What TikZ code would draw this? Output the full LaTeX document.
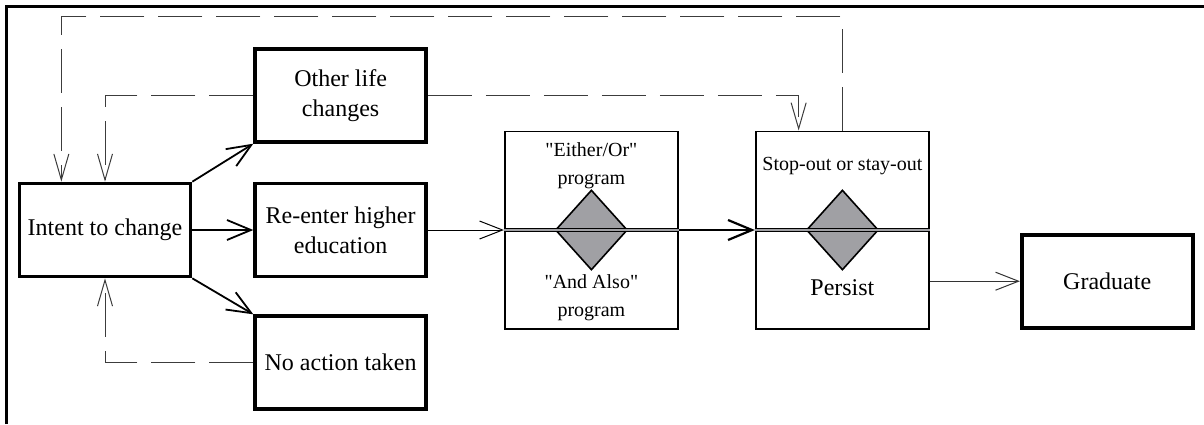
\documentclass[tikz,border=0pt]{standalone}
\usepackage{fontspec}
\setmainfont{Liberation Serif}
\usepackage{xcolor}
\usepackage{tikz}
\usetikzlibrary{positioning,arrows.meta,shapes.geometric,calc}
\definecolor{pdgrey}{RGB}{160,160,164}
\definecolor{pddash}{RGB}{60,60,60}
\tikzset{
  stage/.style={draw=black, line width=1.8pt, align=center,
                minimum width=85.5pt, minimum height=46.5pt, inner sep=2pt,
                font=\fontsize{12}{15}\selectfont},
  prog/.style={draw=black, line width=0.9pt, minimum width=86.6pt,
               minimum height=98.6pt, inner sep=0pt},
  gem/.style={diamond, draw=black, line width=0.8pt, fill=pdgrey,
              minimum width=36pt, minimum height=40pt, inner sep=0pt},
  lbl/.style={font=\fontsize{10}{14}\selectfont, align=center, inner sep=0pt},
  flow/.style={-{Straight Barb[length=12pt,width=10pt]}, line width=0.9pt},
  feed/.style={-{Straight Barb[length=11.5pt,width=9pt]}, line width=0.5pt},
  back/.style={-{Straight Barb[length=13pt,width=7.5pt]}, line width=0.5pt,
               color=pddash, dash pattern=on 22pt off 7pt},
  split/.style={draw=black, line width=0.5pt, double=pdgrey, double distance=0.7pt},
}
\newcommand{\qq}[1]{\textquotedbl#1\textquotedbl}
\begin{document}
\begin{tikzpicture}[x=0.5pt, y=-0.5pt]
\useasboundingbox (0,0) rectangle (1204,424);
% frame
\draw[line width=1.5pt] (6,424) -- (6,6) -- (1204,6);

% the choices after deciding to change
\node[stage] (intent) at (105,230) {Intent to change};
\node[stage, right=30.5pt of intent] (reenter) {Re-enter higher\\education};
\node[stage, above=19pt of reenter] (other) {Other life\\changes};
\node[stage, below=18pt of reenter] (noact) {No action taken};

% program type and persistence
\node[prog, right=38pt of reenter] (either) {};
\node[prog, right=38pt of either] (stop) {};
\node[stage, anchor=south west] (grad) at ([xshift=45pt]stop.south east) {Graduate};

\node[gem] (pick) at (either.center) {};
\node[gem] (keep) at (stop.center) {};
\draw[split] (either.west) -- (either.east);
\draw[split] (stop.west) -- (stop.east);

\node[lbl] (eotxt) at ([yshift=-17.5pt]either.north) {\qq{Either/Or}\\program};
\node[lbl] (aatxt) at ([yshift=16pt]either.south) {\qq{And Also}\\program};
\node[lbl] (sotxt) at ([yshift=-18pt]stop.north) {Stop-out or stay-out};
\node[lbl, font=\fontsize{12}{15}\selectfont] (pstxt) at ([yshift=21pt]stop.south) {Persist};

% forward moves
\draw[flow] (intent.north east) -- (other.south west);
\draw[flow] (intent) -- (reenter);
\draw[flow] (intent.south east) -- (noact.north west);
\draw[feed] (reenter) -- (either);
\draw[flow, line width=1.1pt] (either) -- (stop);
\draw[feed, color=black!80] (stop.east |- grad.west) -- (grad.west);

% loops back
\draw[back] (stop.north) -- ++(0,-114)
  -| ($(intent.north west)!0.25!(intent.north east)$);
\draw[back] (other.east) -| ($(stop.north west)!0.25!(stop.north east)$);
\draw[back] (other.west) -| (intent.north);
\draw[back] (noact.west) -| (intent.south);
\end{tikzpicture}
\end{document}
